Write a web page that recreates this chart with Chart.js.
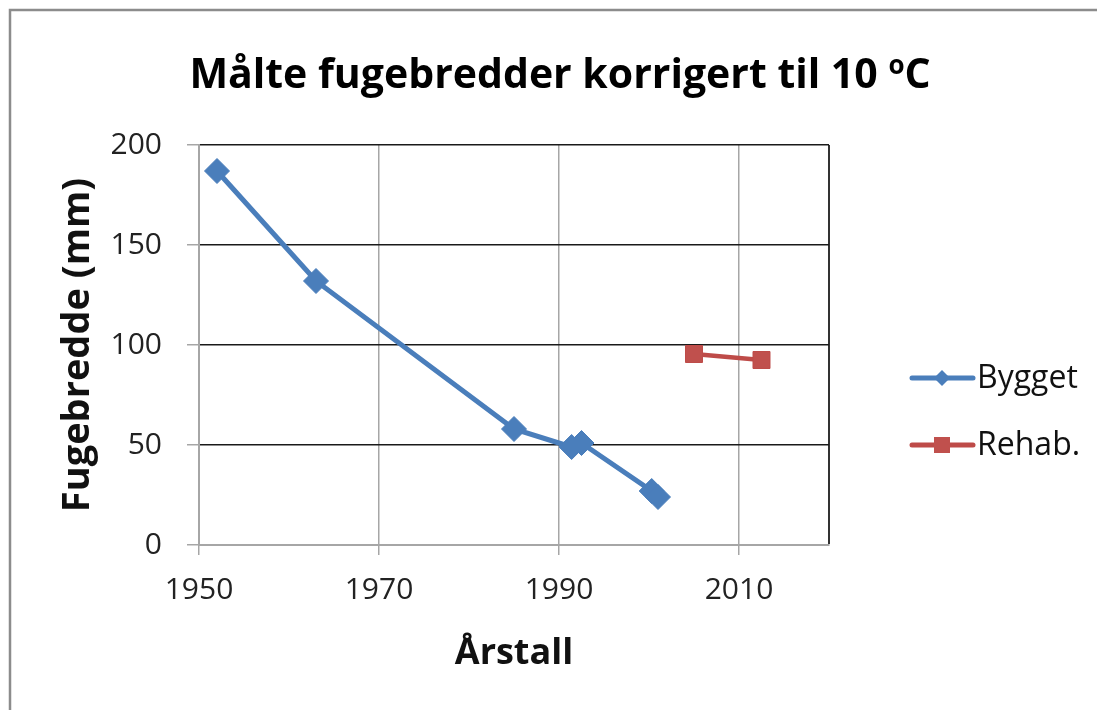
<!DOCTYPE html>
<html>
<head>
<meta charset="utf-8">
<script src="https://cdn.jsdelivr.net/npm/chart.js@4.4.1/dist/chart.umd.min.js"></script>
<style>
  html, body { margin: 0; padding: 0; background: #fff; overflow: hidden; }
  canvas { display: block; }
</style>
</head>
<body>
<canvas id="chart" width="1097" height="710"></canvas>
<script>
// data
const byggetYears = [1952, 1963, 1985, 1991.4, 1992.5, 2000.3, 2001];
const byggetValues = [187, 132, 58, 49, 51, 27, 24];
const rehabYears = [2005, 2012.5];
const rehabValues = [95.5, 92.5];
const xTickValues = [1950, 1970, 1990, 2010, 2020];
const seriesNames = ['Bygget', 'Rehab.'];
const chartTitle = 'Målte fugebredder korrigert til 10 ';

const FONT = '"Open Sans", "Noto Sans", sans-serif';

function toPoints(xs, ys) {
    return xs.map((x, i) => ({ x: x, y: ys[i] }));
}

// outer frame (only top and left edge visible)
const framePlugin = {
    id: 'frame',
    beforeDraw(chart) {
        const ctx = chart.ctx;
        ctx.save();
        ctx.fillStyle = '#fff';
        ctx.fillRect(0, 0, chart.width, chart.height);
        ctx.strokeStyle = '#8c8c8c';
        ctx.lineWidth = 2.5;
        ctx.beginPath();
        ctx.moveTo(10, chart.height);
        ctx.lineTo(10, 10);
        ctx.lineTo(chart.width, 10);
        ctx.stroke();
        ctx.restore();
    }
};

// title with superscript "o"
const titlePlugin = {
    id: 'supTitle',
    afterDraw(chart) {
        const ctx = chart.ctx;
        ctx.save();
        ctx.fillStyle = '#000';
        ctx.textBaseline = 'alphabetic';
        const big = 'bold 41px ' + FONT;
        const small = 'bold 26px ' + FONT;
        ctx.font = big;
        const w1 = ctx.measureText(chartTitle).width;
        const w3 = ctx.measureText('C').width;
        ctx.font = small;
        const w2 = ctx.measureText('o').width;
        let x = 560 - (w1 + w2 + w3) / 2;
        const base = 88;
        ctx.font = big;
        ctx.fillText(chartTitle, x, base);
        x += w1;
        ctx.font = small;
        ctx.fillText('o', x, base - 14);
        x += w2;
        ctx.font = big;
        ctx.fillText('C', x, base);
        ctx.restore();
    }
};

// legend on the right: line + marker + text
const legendPlugin = {
    id: 'sideLegend',
    afterDraw(chart) {
        const ctx = chart.ctx;
        const rows = [378, 445];
        ctx.save();
        chart.data.datasets.forEach((ds, i) => {
            const y = rows[i];
            ctx.strokeStyle = ds.borderColor;
            ctx.lineWidth = 5;
            ctx.lineCap = 'round';
            ctx.beginPath();
            ctx.moveTo(912, y);
            ctx.lineTo(973, y);
            ctx.stroke();
            ctx.fillStyle = ds.pointBackgroundColor;
            ctx.beginPath();
            if (ds.pointStyle === 'rectRot') {
                const r = 8;
                ctx.moveTo(942, y - r);
                ctx.lineTo(942 + r, y);
                ctx.lineTo(942, y + r);
                ctx.lineTo(942 - r, y);
                ctx.closePath();
            } else {
                ctx.rect(934, y - 8, 16, 16);
            }
            ctx.fill();
            ctx.fillStyle = '#111';
            ctx.font = '32px ' + FONT;
            ctx.textBaseline = 'middle';
            ctx.textAlign = 'left';
            ctx.fillText(ds.label, 977, y + 1);
        });
        ctx.restore();
    }
};

new Chart(document.getElementById('chart').getContext('2d'), {
    type: 'line',
    data: {
        datasets: [{
            label: seriesNames[0],
            data: toPoints(byggetYears, byggetValues),
            borderColor: '#4a7ebb',
            backgroundColor: '#4a7ebb',
            pointBackgroundColor: '#4a7ebb',
            pointBorderColor: '#4a7ebb',
            borderWidth: 5,
            pointStyle: 'rectRot',
            pointRadius: 12.5,
            pointBorderWidth: 1,
            tension: 0
        }, {
            label: seriesNames[1],
            data: toPoints(rehabYears, rehabValues),
            borderColor: '#be4b48',
            backgroundColor: '#be4b48',
            pointBackgroundColor: '#c0504d',
            pointBorderColor: '#be4b48',
            borderWidth: 4.5,
            pointStyle: 'rect',
            pointRadius: 12,
            pointBorderWidth: 1,
            tension: 0
        }]
    },
    options: {
        responsive: false,
        animation: false,
        devicePixelRatio: 1,
        layout: { padding: { top: 145, left: 10, right: 268, bottom: 0 } },
        plugins: {
            legend: { display: false },
            title: { display: false },
            tooltip: { enabled: false }
        },
        scales: {
            x: {
                type: 'linear',
                min: 1950,
                max: 2020,
                afterBuildTicks(scale) {
                    scale.ticks = xTickValues.map(v => ({ value: v }));
                },
                afterFit(scale) {
                    scale.height = 165;
                },
                ticks: {
                    autoSkip: false,
                    maxRotation: 0,
                    padding: 17,
                    color: '#222',
                    font: { family: FONT, size: 30 },
                    callback: v => (v === 2020 ? '' : String(v))
                },
                grid: {
                    color: c => (c.tick && c.tick.value === 2020 ? '#333' : '#a6a6a6'),
                    lineWidth: c => (c.tick && c.tick.value === 2020 ? 2 : 1.5),
                    tickColor: c => (c.tick && c.tick.value === 2020 ? 'rgba(0,0,0,0)' : '#a6a6a6'),
                    tickLength: 10,
                    drawTicks: true
                },
                border: { color: '#a6a6a6', width: 2 },
                title: {
                    display: true,
                    text: 'Årstall',
                    color: '#111',
                    font: { family: FONT, size: 36, weight: 'bold' },
                    padding: { top: 0, bottom: 35 }
                }
            },
            y: {
                min: 0,
                max: 200,
                afterFit(scale) {
                    scale.width = 189;
                },
                ticks: {
                    stepSize: 50,
                    padding: 25,
                    color: '#222',
                    font: { family: FONT, size: 30 }
                },
                grid: {
                    color: c => (c.tick && c.tick.value === 0 ? '#a6a6a6' : '#1a1a1a'),
                    lineWidth: 1.5,
                    tickColor: '#a6a6a6',
                    tickLength: 12,
                    drawTicks: true
                },
                border: { color: '#a6a6a6', width: 2 },
                title: {
                    display: true,
                    text: 'Fugebredde (mm)',
                    color: '#111',
                    font: { family: FONT, size: 38, weight: 'bold' },
                    padding: { top: 45, bottom: 0 }
                }
            }
        }
    },
    plugins: [framePlugin, titlePlugin, legendPlugin]
});
</script>
</body>
</html>
